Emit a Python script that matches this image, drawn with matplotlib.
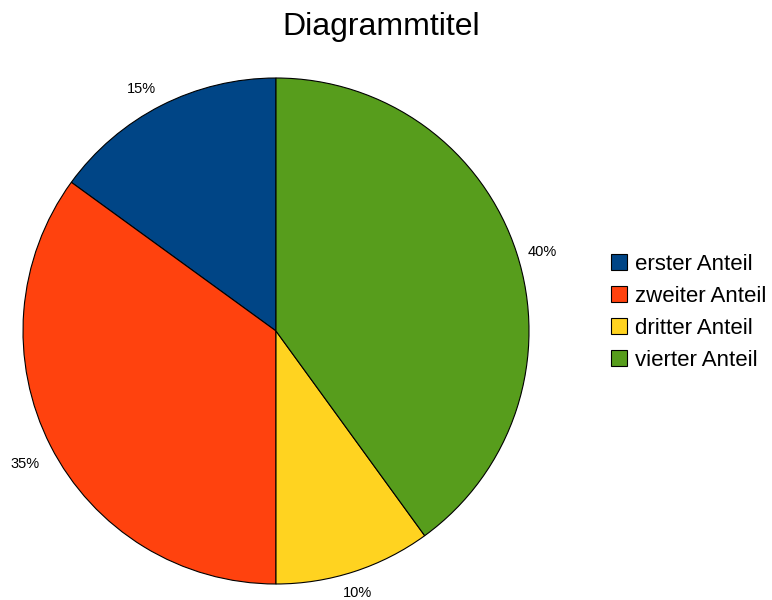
import matplotlib
matplotlib.use("Agg")
import matplotlib.pyplot as plt
import matplotlib.transforms as mtransforms

labels = ["erster Anteil", "zweiter Anteil", "dritter Anteil", "vierter Anteil"]
values = [15, 35, 10, 40]
colors = ["#004586", "#ff420e", "#ffd320", "#579d1c"]
title = "Diagrammtitel"

plt.rcParams['font.family'] = ['Liberation Sans', 'DejaVu Sans']

W, H = 772, 600
fig = plt.figure(figsize=(W / 100, H / 100), dpi=100)
cx, cy, r = 276, 331, 253
ax = fig.add_axes([(cx - r) / W, (H - cy - r) / H, 2 * r / W, 2 * r / H])
wedges, texts, autotexts = ax.pie(
    values, colors=colors, startangle=90, counterclock=True,
    autopct=lambda p: f"{p:.0f}%", pctdistance=1.1,
    wedgeprops=dict(edgecolor="black", linewidth=0.8),
    textprops=dict(fontsize=10.5, color="black"),
)
# small nudges (in pixels: right, up) of the percentage labels, in slice order
nudges = [(-8, -5.5), (-3, -7), (-4, 2.5), (2, -7)]
for t, (dx, dy) in zip(autotexts, nudges):
    t.set_transform(mtransforms.offset_copy(ax.transData, fig=fig,
                                            x=dx, y=dy, units="dots"))
ax.set_xlim(-1, 1)
ax.set_ylim(-1, 1)
ax.set_aspect("auto")
ax.axis("off")

fig.text(381 / W, 1 - 27 / H, title, ha="center", va="center", fontsize=23)

fig.legend(wedges, labels, loc="center left",
           bbox_to_anchor=(611 / W, 1 - 312.5 / H), frameon=False,
           fontsize=16, handlelength=0.72, handleheight=0.72,
           handletextpad=0.38, labelspacing=0.5, borderpad=0,
           borderaxespad=0)

fig.savefig("out.png", dpi=100)
